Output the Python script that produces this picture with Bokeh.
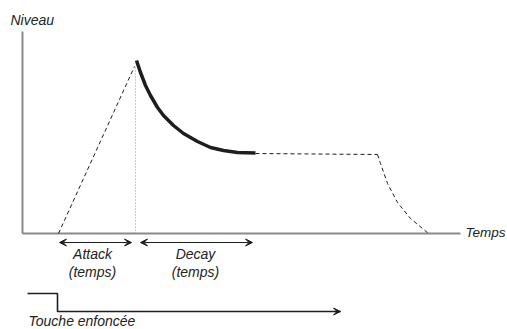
from bokeh.plotting import figure
from bokeh.models import Range1d, Arrow, VeeHead
from bokeh.core.properties import value
from bokeh.embed import file_html
from bokeh.resources import INLINE

# ADSR envelope (time units, level units)
attack_t = [36, 112]
attack_lvl = [0, 167]
peak_t = 113
peak_lvl = 168
decay_t = [114, 118, 123, 128, 135, 141, 151, 161, 175, 188, 201, 215, 233]
decay_lvl = [173, 161, 148, 138, 126, 118, 108, 100, 92, 86, 83, 81, 80.5]
sustain_t = [233, 355]
sustain_lvl = [80, 79]
release_t = [355, 358, 365, 375, 388, 406]
release_lvl = [79, 70, 50, 31, 15, 0]

# axes extents
axis_t_max = 438
axis_lvl_max = 202

# key press gate
gate_t = [5, 35, 35, 318]
gate_lvl = [-60, -60, -78, -78]

# interval arrows (start, end)
attack_span = [37, 109]
decay_span = [118, 230]

labels_axis = ["Niveau", "Temps"]
label_attack = ["Attack", "(temps)"]
label_decay = ["Decay", "(temps)"]
label_key = "Touche enfoncée"

p = figure(width=507, height=329, output_backend="svg", toolbar_location=None,
           x_range=Range1d(-22, 485), y_range=Range1d(-96, 233),
           min_border=0, min_border_left=0, min_border_right=0,
           min_border_top=0, min_border_bottom=0)
p.axis.visible = False
p.grid.visible = False
p.outline_line_color = None
p.background_fill_color = "white"
p.border_fill_color = "white"

axis_col = "#8a8a8a"
ink = "#1e1e1e"
font = value("Liberation Sans")
fs = "14px"

# axes
p.line([0, 0], [0, axis_lvl_max], line_color=axis_col, line_width=2)
p.line([0, axis_t_max], [0, 0], line_color=axis_col, line_width=2)

# attack (dashed)
p.line(attack_t, attack_lvl, line_color=ink, line_width=1, line_dash="4 3")
# dotted marker at peak
p.line([peak_t, peak_t], [0, peak_lvl], line_color="#9a9a9a", line_width=1, line_dash="1 2")
# decay (thick)
p.line(decay_t, decay_lvl, line_color=ink, line_width=3.5, line_cap="butt", line_join="round")
# sustain (dashed)
p.line(sustain_t, sustain_lvl, line_color=ink, line_width=1, line_dash="4 3")
# release (dashed)
p.line(release_t, release_lvl, line_color=ink, line_width=1, line_dash="4 3")

# interval arrows
for span in (attack_span, decay_span):
    p.add_layout(Arrow(x_start=span[0], y_start=-9, x_end=span[1], y_end=-9,
                       line_color=ink, line_width=1.2,
                       start=VeeHead(size=7, fill_color=ink, line_color=ink),
                       end=VeeHead(size=7, fill_color=ink, line_color=ink)))

# gate line
p.line(gate_t, gate_lvl, line_color=ink, line_width=1.6)
p.add_layout(Arrow(x_start=gate_t[-1] - 5, y_start=gate_lvl[-1], x_end=gate_t[-1], y_end=gate_lvl[-1],
                   line_color=ink, line_width=1.6,
                   end=VeeHead(size=7, fill_color=ink, line_color=ink)))

tcol = "#222222"
p.text(x=[-12], y=[214], text=[labels_axis[0]], text_font=font, text_font_size=fs,
       text_font_style="italic", text_color=tcol, text_baseline="middle", text_align="left")
p.text(x=[483], y=[1.5], text=[labels_axis[1]], text_font=font, text_font_size="13.5px",
       text_font_style="italic", text_color=tcol, text_baseline="middle", text_align="right")
p.text(x=[70, 70], y=[-20, -38.5], text=label_attack, text_font=font, text_font_size=fs,
       text_font_style="italic", text_color=tcol, text_baseline="middle", text_align="center")
p.text(x=[173, 173], y=[-20, -38.5], text=label_decay, text_font=font, text_font_size=fs,
       text_font_style="italic", text_color=tcol, text_baseline="middle", text_align="center")
p.text(x=[6], y=[-87], text=[label_key], text_font=font, text_font_size=fs,
       text_font_style="italic", text_color=tcol, text_baseline="middle", text_align="left")

open("out.html", "w").write(file_html(p, INLINE))
